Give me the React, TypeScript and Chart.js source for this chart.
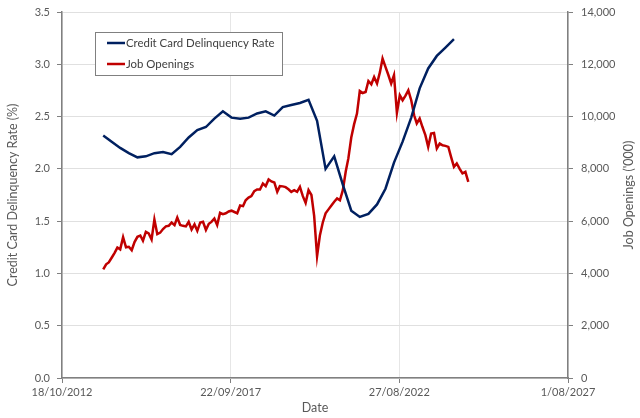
import React, { useEffect, useRef } from 'react';
import { Chart, registerables } from 'chart.js';

Chart.register(...registerables);

// ---- Data ----
const seriesNames = ['Credit Card Delinquency Rate', 'Job Openings'];

// Quarterly, starting 2014 Q1 (first day of quarter)
const delinquencyStart = { year: 2014, month: 0 };
const delinquencyRate = [
  2.32, 2.26, 2.2, 2.15, 2.11, 2.12, 2.15, 2.16, 2.14, 2.21, 2.3, 2.37,
  2.4, 2.48, 2.55, 2.49, 2.48, 2.49, 2.53, 2.55, 2.51, 2.59, 2.61, 2.63,
  2.66, 2.46, 2.0, 2.12, 1.85, 1.6, 1.54, 1.57, 1.66, 1.81, 2.06, 2.26,
  2.49, 2.77, 2.96, 3.08, 3.16, 3.24,
];

// Monthly, starting Jan 2014 ('000)
const jobsStart = { year: 2014, month: 0 };
const jobOpenings = [
  4155, 4350, 4420, 4600, 4780, 4990, 4920, 5390, 5000, 5020, 4890, 5200,
  5400, 5450, 5250, 5590, 5530, 5300, 6065, 5500, 5560, 5700, 5800, 5820,
  5950, 5850, 6140, 5850, 5820, 5800, 5975, 5680, 5880, 5630, 5950, 5975,
  5660, 5900, 5970, 6100, 5850, 6320, 6270, 6300, 6370, 6400, 6350, 6300,
  6600, 6575, 6800, 6900, 6955, 7150, 7210, 7210, 7440, 7340, 7595, 7520,
  7480, 7120, 7340, 7330, 7300, 7220, 7120, 7185, 7120, 7310, 6955, 6700,
  7185, 7000, 6200, 4660, 5450, 5950, 6300, 6450, 6600, 6740, 6870, 6800,
  7185, 7900, 8400, 9200, 9700, 10115, 10980, 10900, 10940, 11360, 11235, 11515,
  11265, 11700, 12220, 11900, 11600, 11265, 11580, 10140, 10815, 10625, 10800, 11005,
  10625, 10050, 9735, 9925, 9600, 9290, 8840, 9350, 9375, 8780, 8970, 8900,
  8880, 8840, 8460, 8075, 8205, 8000, 7825, 7885, 7500,
];

// Axis ranges (Excel date serials) and ticks
const xMinSerial = 41200; // 18/10/2012
const xMaxSerial = 46600; // 1/08/2027
const xStepDays = 1800;
const leftMax = 3.5;
const leftStep = 0.5;
const rightMax = 14000;
const rightStep = 2000;

const axisTitles = {
  x: 'Date',
  y: 'Credit Card Delinquency Rate (%)',
  y1: "Job Openings ('000)",
};

const BLUE = '#002060';
const RED = '#C00000';
const TEXT = '#595959';
const FONT = 'Lato, "Open Sans", sans-serif';
const TITLE_SIZE = 12.5;

function toSerial(year: number, month: number): number {
  return Date.UTC(year, month, 1) / 86400000 + 25569;
}

function serialLabel(serial: number): string {
  const d = new Date((serial - 25569) * 86400000);
  const day = d.getUTCDate();
  const m = String(d.getUTCMonth() + 1).padStart(2, '0');
  return `${day}/${m}/${d.getUTCFullYear()}`;
}

const legendPlugin = {
  id: 'boxLegend',
  afterDraw(chart: any) {
    const ctx = chart.ctx;
    const box = { x: 95.5, y: 32.5, w: 187, h: 43 };
    ctx.save();
    ctx.fillStyle = '#ffffff';
    ctx.fillRect(box.x, box.y, box.w, box.h);
    ctx.strokeStyle = '#808080';
    ctx.lineWidth = 1;
    ctx.strokeRect(box.x, box.y, box.w, box.h);
    const rows = [
      { y: 43, color: BLUE, label: seriesNames[0] },
      { y: 64, color: RED, label: seriesNames[1] },
    ];
    ctx.font = `11.4px ${FONT}`;
    ctx.textBaseline = 'middle';
    ctx.textAlign = 'left';
    for (const r of rows) {
      ctx.strokeStyle = r.color;
      ctx.lineWidth = 2.5;
      ctx.beginPath();
      ctx.moveTo(107, r.y);
      ctx.lineTo(125, r.y);
      ctx.stroke();
      ctx.fillStyle = '#404040';
      ctx.fillText(r.label, 126, r.y);
    }

    // Right axis title, reading bottom-to-top like the left one
    const area = chart.chartArea;
    ctx.translate(629, (area.top + area.bottom) / 2);
    ctx.rotate(-Math.PI / 2);
    ctx.font = `${TITLE_SIZE}px ${FONT}`;
    ctx.textAlign = 'center';
    ctx.textBaseline = 'middle';
    ctx.fillStyle = TEXT;
    ctx.fillText(axisTitles.y1, 0, 0);
    ctx.restore();
  },
};

export default function App() {
  const canvasRef = useRef<HTMLCanvasElement | null>(null);

  useEffect(() => {
    document.body.style.margin = '0';
    const canvas = canvasRef.current;
    if (!canvas) return;

    const delinquencyData = delinquencyRate.map((v, i) => ({
      x: toSerial(delinquencyStart.year, delinquencyStart.month + 3 * i),
      y: v,
    }));
    const jobsData = jobOpenings.map((v, i) => ({
      x: toSerial(jobsStart.year, jobsStart.month + i),
      y: v,
    }));

    const tickFont = { family: FONT, size: 11 };
    const titleFont = { family: FONT, size: TITLE_SIZE };

    const chart = new Chart(canvas, {
      type: 'line',
      data: {
        datasets: [
          {
            label: seriesNames[0],
            data: delinquencyData,
            borderColor: BLUE,
            backgroundColor: BLUE,
            borderWidth: 2.5,
            pointRadius: 0,
            tension: 0,
            yAxisID: 'y',
          },
          {
            label: seriesNames[1],
            data: jobsData,
            borderColor: RED,
            backgroundColor: RED,
            borderWidth: 2.5,
            pointRadius: 0,
            tension: 0,
            yAxisID: 'y1',
          },
        ],
      },
      options: {
        animation: false,
        responsive: true,
        maintainAspectRatio: false,
        layout: { padding: { top: 12, left: 0, right: 0, bottom: 0 } },
        plugins: {
          legend: { display: false },
          tooltip: { enabled: false },
        },
        scales: {
          x: {
            type: 'linear',
            min: xMinSerial,
            max: xMaxSerial,
            afterBuildTicks(scale: any) {
              const t = [];
              for (let v = xMinSerial; v <= xMaxSerial; v += xStepDays) t.push({ value: v });
              scale.ticks = t;
            },
            afterFit(scale: any) {
              scale.height = 40;
            },
            ticks: {
              color: TEXT,
              font: tickFont,
              padding: 3,
              maxRotation: 0,
              autoSkip: false,
              callback: (v: any) => serialLabel(Number(v)),
            },
            grid: {
              color: '#e6e6e6',
              tickColor: '#808080',
              tickLength: 5,
              lineWidth: 1,
            },
            border: { color: '#808080', width: 1.5 },
            title: {
              display: true,
              text: axisTitles.x,
              color: TEXT,
              font: titleFont,
              padding: { top: 0, bottom: 3 },
            },
          },
          y: {
            position: 'left',
            min: 0,
            max: leftMax,
            afterFit(scale: any) {
              scale.width = 62;
              scale.paddingTop = 0;
            },
            ticks: {
              stepSize: leftStep,
              color: TEXT,
              font: tickFont,
              padding: 7,
              callback: (v: any) => Number(v).toFixed(1),
            },
            grid: {
              color: '#e0e0e0',
              tickColor: '#808080',
              tickLength: 5,
            },
            border: { color: '#808080', width: 1.5 },
            title: {
              display: true,
              text: axisTitles.y,
              color: TEXT,
              font: titleFont,
              padding: { top: 5, bottom: 0 },
            },
          },
          y1: {
            position: 'right',
            min: 0,
            max: rightMax,
            afterFit(scale: any) {
              scale.width = 72;
              scale.paddingTop = 0;
            },
            ticks: {
              stepSize: rightStep,
              color: TEXT,
              font: tickFont,
              padding: 8,
              callback: (v: any) => Number(v).toLocaleString('en-US'),
            },
            grid: {
              drawOnChartArea: false,
              color: '#808080',
              tickColor: '#808080',
              tickLength: 5,
            },
            border: { color: '#808080', width: 1.5 },
            title: { display: false },
          },
        },
      },
      plugins: [legendPlugin],
    } as any);

    return () => chart.destroy();
  }, []);

  return (
    <div style={{ width: 640, height: 418, position: 'relative', background: '#fff' }}>
      <canvas ref={canvasRef} />
    </div>
  );
}
